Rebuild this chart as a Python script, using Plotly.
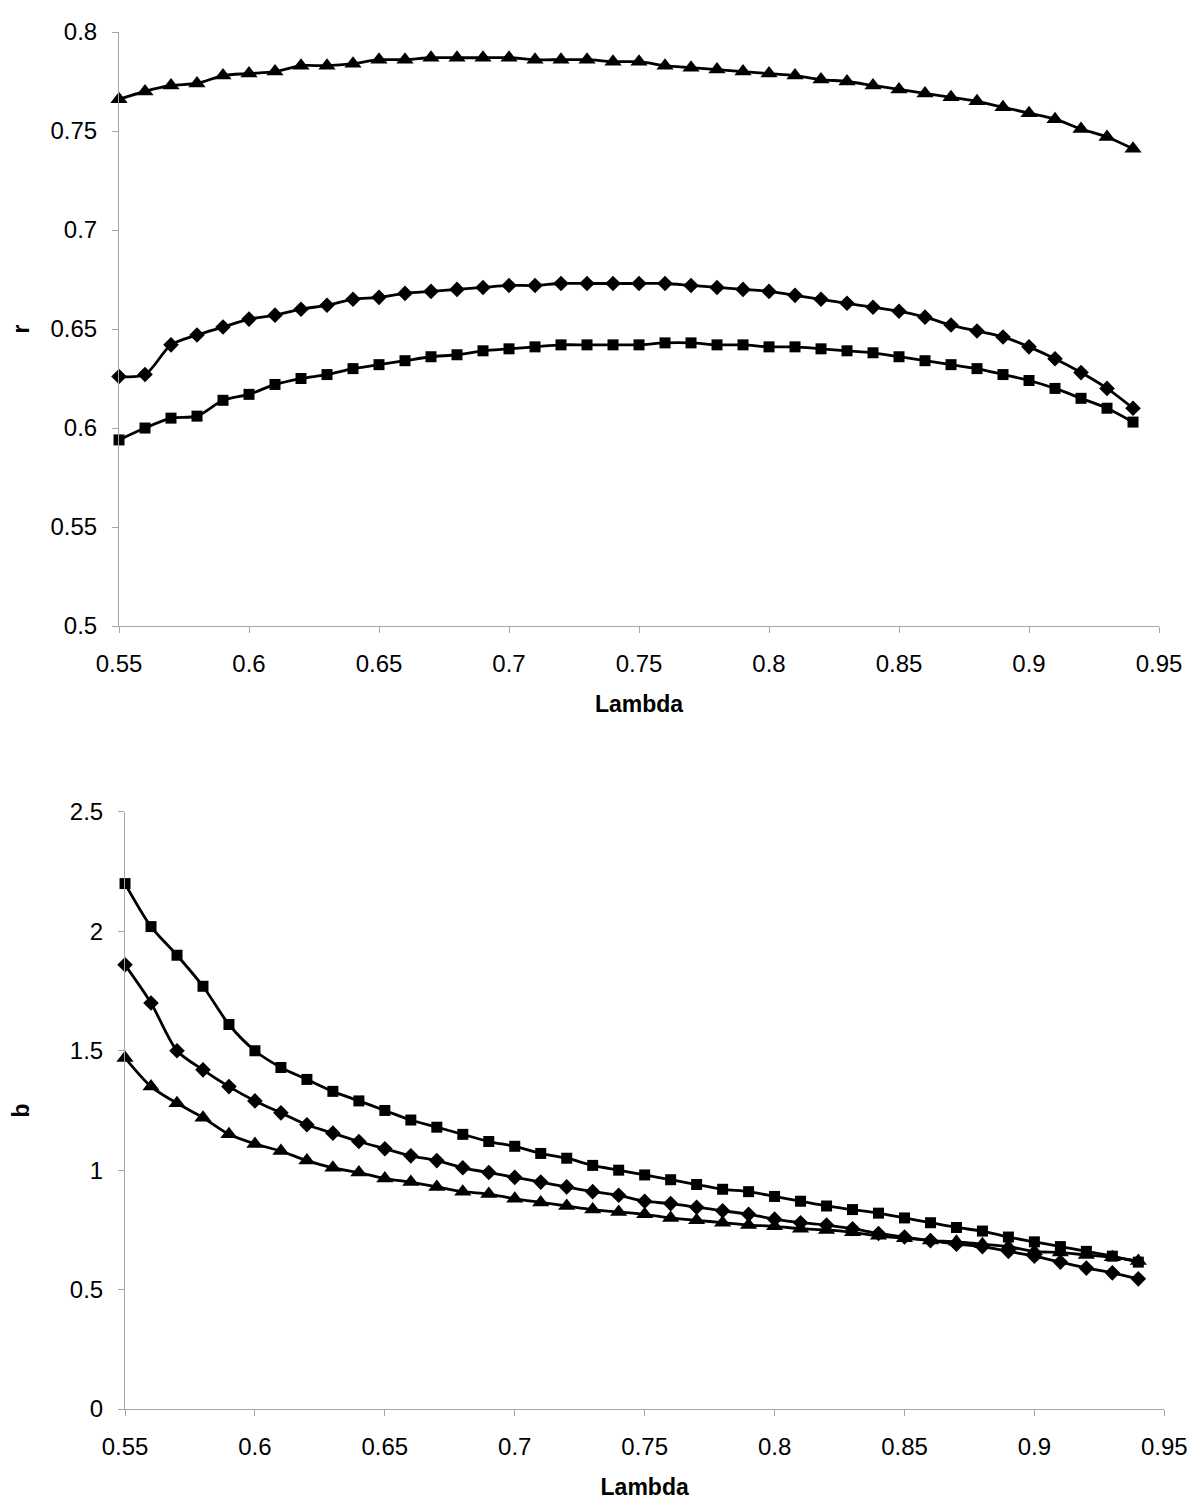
import plotly.graph_objects as go

lam = [0.55, 0.56, 0.57, 0.58, 0.59, 0.60, 0.61, 0.62, 0.63, 0.64,
       0.65, 0.66, 0.67, 0.68, 0.69, 0.70, 0.71, 0.72, 0.73, 0.74,
       0.75, 0.76, 0.77, 0.78, 0.79, 0.80, 0.81, 0.82, 0.83, 0.84,
       0.85, 0.86, 0.87, 0.88, 0.89, 0.90, 0.91, 0.92, 0.93, 0.94]

r_triangle = [0.766, 0.770, 0.773, 0.774, 0.778, 0.779, 0.780, 0.783, 0.783, 0.784,
              0.786, 0.786, 0.787, 0.787, 0.787, 0.787, 0.786, 0.786, 0.786, 0.785,
              0.785, 0.783, 0.782, 0.781, 0.780, 0.779, 0.778, 0.776, 0.775, 0.773,
              0.771, 0.769, 0.767, 0.765, 0.762, 0.759, 0.756, 0.751, 0.747, 0.741]
r_diamond = [0.626, 0.627, 0.642, 0.647, 0.651, 0.655, 0.657, 0.660, 0.662, 0.665,
             0.666, 0.668, 0.669, 0.670, 0.671, 0.672, 0.672, 0.673, 0.673, 0.673,
             0.673, 0.673, 0.672, 0.671, 0.670, 0.669, 0.667, 0.665, 0.663, 0.661,
             0.659, 0.656, 0.652, 0.649, 0.646, 0.641, 0.635, 0.628, 0.620, 0.610]
r_square = [0.594, 0.600, 0.605, 0.606, 0.614, 0.617, 0.622, 0.625, 0.627, 0.630,
            0.632, 0.634, 0.636, 0.637, 0.639, 0.640, 0.641, 0.642, 0.642, 0.642,
            0.642, 0.643, 0.643, 0.642, 0.642, 0.641, 0.641, 0.640, 0.639, 0.638,
            0.636, 0.634, 0.632, 0.630, 0.627, 0.624, 0.620, 0.615, 0.610, 0.603]

b_square = [2.20, 2.02, 1.90, 1.77, 1.61, 1.50, 1.43, 1.38, 1.33, 1.29,
            1.25, 1.21, 1.18, 1.15, 1.12, 1.10, 1.07, 1.05, 1.02, 1.00,
            0.98, 0.96, 0.94, 0.92, 0.91, 0.89, 0.87, 0.85, 0.835, 0.82,
            0.80, 0.78, 0.76, 0.745, 0.72, 0.70, 0.68, 0.66, 0.64, 0.615]
b_diamond = [1.86, 1.70, 1.50, 1.42, 1.35, 1.29, 1.24, 1.19, 1.155, 1.12,
             1.09, 1.06, 1.04, 1.01, 0.99, 0.97, 0.95, 0.93, 0.91, 0.895,
             0.87, 0.86, 0.845, 0.83, 0.815, 0.795, 0.78, 0.77, 0.755, 0.735,
             0.72, 0.705, 0.69, 0.68, 0.66, 0.64, 0.615, 0.59, 0.57, 0.545]
b_triangle = [1.47, 1.35, 1.28, 1.22, 1.15, 1.11, 1.08, 1.04, 1.01, 0.99,
              0.965, 0.95, 0.93, 0.91, 0.90, 0.88, 0.865, 0.85, 0.835, 0.825,
              0.815, 0.80, 0.79, 0.78, 0.77, 0.765, 0.755, 0.75, 0.74, 0.725,
              0.715, 0.705, 0.70, 0.69, 0.68, 0.66, 0.655, 0.645, 0.635, 0.62]

x_ticks = [0.55, 0.6, 0.65, 0.7, 0.75, 0.8, 0.85, 0.9, 0.95]
x_ticklabels = ["0.55", "0.6", "0.65", "0.7", "0.75", "0.8", "0.85", "0.9", "0.95"]
r_ticks = [0.5, 0.55, 0.6, 0.65, 0.7, 0.75, 0.8]
r_ticklabels = ["0.5", "0.55", "0.6", "0.65", "0.7", "0.75", "0.8"]
b_ticks = [0, 0.5, 1, 1.5, 2, 2.5]
b_ticklabels = ["0", "0.5", "1", "1.5", "2", "2.5"]

FONT = "Liberation Sans, Arial, sans-serif"
fig = go.Figure()

def add(y, symbol, size, xa, ya):
    fig.add_trace(go.Scatter(
        x=lam, y=y, mode="lines+markers", xaxis=xa, yaxis=ya,
        line=dict(color="black", width=2.8, shape="spline", smoothing=0.8),
        marker=dict(symbol=symbol, size=size, color="black"),
        cliponaxis=False, showlegend=False))

add(r_triangle, "triangle-up", 15, "x", "y")
add(r_diamond, "diamond", 12, "x", "y")
add(r_square, "square", 11, "x", "y")
add(b_square, "square", 11, "x2", "y2")
add(b_diamond, "diamond", 12, "x2", "y2")
add(b_triangle, "triangle-up", 15, "x2", "y2")

axis_common = dict(showgrid=False, zeroline=False, showline=True, automargin=False,
                   linecolor="#a6a6a6", linewidth=1, ticks="outside",
                   ticklen=6, tickcolor="#a6a6a6", tickwidth=1,
                   tickfont=dict(family=FONT, size=24, color="black"))
title_font = dict(family=FONT, size=23, color="black")

fig.update_layout(
    width=1200, height=1508,
    paper_bgcolor="white", plot_bgcolor="white",
    margin=dict(l=111, r=31, t=24, b=107),
    font=dict(family=FONT, color="black"),
    xaxis=dict(domain=[0, 0.983], range=[0.55, 0.95], tickvals=x_ticks,
               ticktext=x_ticklabels, anchor="y", ticklabelstandoff=10,
               title=dict(text="<b>Lambda</b>", font=title_font, standoff=20),
               **axis_common),
    yaxis=dict(domain=[0.5686, 1], range=[0.5, 0.8], tickvals=r_ticks,
               ticktext=r_ticklabels, anchor="x", ticklabelstandoff=10,
               title=dict(text="<b>r</b>", font=title_font, standoff=22),
               **axis_common),
    xaxis2=dict(domain=[0.0057, 0.988], range=[0.55, 0.95], tickvals=x_ticks,
                ticktext=x_ticklabels, anchor="y2", ticklabelstandoff=10,
                title=dict(text="<b>Lambda</b>", font=title_font, standoff=20),
                **axis_common),
    yaxis2=dict(domain=[0, 0.4336], range=[0, 2.5], tickvals=b_ticks,
                ticktext=b_ticklabels, anchor="x2", ticklabelstandoff=10,
                title=dict(text="<b>b</b>", font=title_font, standoff=36),
                **axis_common),
)

fig.write_html("out.html")
